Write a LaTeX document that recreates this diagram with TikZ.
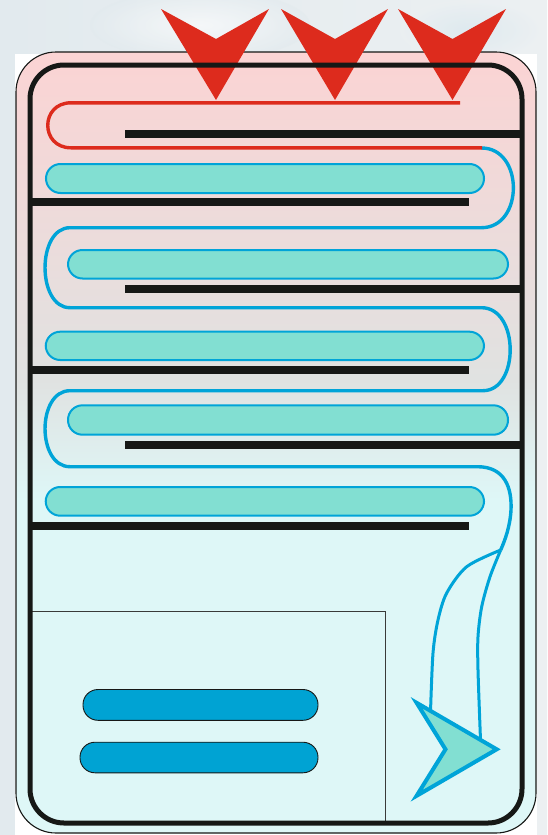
\documentclass[tikz,border=0pt]{standalone}
\definecolor{redc}{RGB}{221,43,29}
\definecolor{bluec}{RGB}{0,164,216}
\definecolor{tealc}{RGB}{130,223,210}
\definecolor{pinkc}{RGB}{252,211,211}
\definecolor{greyc}{RGB}{224,226,225}
\definecolor{cyanc}{RGB}{222,247,247}
\definecolor{darkc}{RGB}{22,24,22}
\definecolor{pillc}{RGB}{0,163,211}
\definecolor{bgl}{RGB}{226,234,238}
\definecolor{bgr}{RGB}{236,240,242}
\definecolor{bgb}{RGB}{214,230,238}
\begin{document}
\begin{tikzpicture}[x=1pt,y=-1pt,
  tube/.style={draw=bluec, line width=2pt, fill=tealc, rounded corners=14.5pt},
  pill/.style={draw=darkc, line width=0.9pt, fill=pillc, rounded corners=15pt},
  baffle/.style={fill=darkc},
  redline/.style={draw=redc, line width=3.4pt},
  blueline/.style={draw=bluec, line width=3.4pt},
  branch/.style={draw=bluec, line width=3pt},
  chevron/.style={fill=redc},
]
\useasboundingbox (0,0) rectangle (547,835);
% background photo-like area
\shade[left color=bgl, right color=bgr] (0,0) rectangle (547,835);
\shade[inner color=white, outer color=bgl, opacity=0.6] (200,25) ellipse (110 and 35);
\shade[inner color=bgb, outer color=bgr, opacity=0.6] (470,30) ellipse (70 and 30);
\fill[white] (15,54) rectangle (537,835);
% body with gradient
\begin{scope}
  \clip[rounded corners=40pt] (16,52) rectangle (536,833);
  \fill[cyanc] (0,0) rectangle (547,835);
  \shade[top color=pinkc, bottom color=greyc] (0,40) rectangle (547,380);
  \shade[top color=greyc, bottom color=cyanc] (0,380) rectangle (547,500);
\end{scope}
\draw[darkc, line width=1.1pt, rounded corners=40pt] (16,52) rectangle (536,833);
% baffles
\fill[baffle] (125,130.2) rectangle (522,137.8);
\fill[baffle] (30,198.2) rectangle (468.6,205.8);
\fill[baffle] (125,285.2) rectangle (522,292.8);
\fill[baffle] (30,366.2) rectangle (468.6,373.8);
\fill[baffle] (125,441.2) rectangle (522,448.8);
\fill[baffle] (30,522.2) rectangle (468.6,529.8);
% tubes
\draw[tube] (46,164) rectangle (484,193);
\draw[tube] (68,250) rectangle (508,278.5);
\draw[tube] (45.7,331.7) rectangle (484,360);
\draw[tube] (68,405.3) rectangle (508,434.7);
\draw[tube] (45.7,487) rectangle (484,515.7);
% serpentine
\draw[blueline] (481.5,148) .. controls (524,148) and (524,227.7) .. (481.5,227.7)
  -- (70,227.7) .. controls (36.7,227.7) and (36.7,307.7) .. (70,307.7)
  -- (481.5,307.7) .. controls (519.5,307.7) and (519.5,390.7) .. (483,390.7)
  -- (70,390.7) .. controls (36.7,390.7) and (36.7,466.7) .. (70,466.7)
  -- (478,466.7) .. controls (505,467) and (512,488) .. (511,510)
  .. controls (510,527) and (505,540) .. (500.7,550);
\draw[redline] (460,102.8) -- (71,102.8) .. controls (40,102.8) and (40,147.8) .. (71,147.8) -- (482,147.8);
% red arrows
\fill[chevron] (161,9) -- (216,39) -- (269,9) -- (216,100) -- cycle;
\fill[chevron] (281,9) -- (335,39) -- (388,9) -- (335,100) -- cycle;
\fill[chevron] (398,9) -- (452.5,39) -- (506,9) -- (452.5,100) -- cycle;
% lower box
\draw[darkc!85, line width=0.9pt] (30,611.7) -- (385.5,611.7) -- (385.5,823);
\draw[pill] (83,689.5) rectangle (318,720.3);
\draw[pill] (80,742.2) rectangle (318,772.8);
% branches
\draw[branch] plot[smooth] coordinates {(500.7,550) (466.7,566.7) (446.7,593) (438,620) (433,653) (430.5,712)};
\draw[branch] plot[smooth] coordinates {(500.7,550) (490,576.7) (481.7,606.7) (478,636.7) (478,670) (480.5,740)};
\draw[draw=bluec, line width=4pt, fill=tealc, miter limit=10] (416.6,702.8) -- (496.7,749.3) -- (416.6,795.8) -- (445.5,749.3) -- cycle;
% thick wall
\draw[darkc, line width=5pt, rounded corners=34pt] (30,65) rectangle (522,823);
\end{tikzpicture}
\end{document}
